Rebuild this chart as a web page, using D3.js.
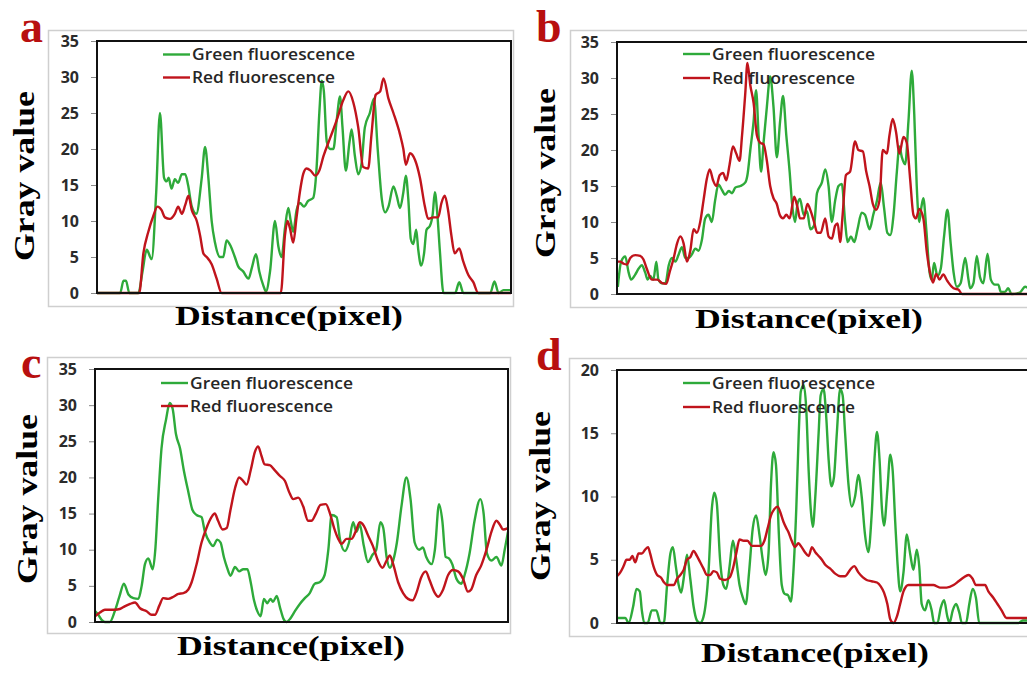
<!DOCTYPE html>
<html><head><meta charset="utf-8">
<script src="https://cdn.jsdelivr.net/npm/d3@7"></script>
<style>body{margin:0;background:#fff}svg{display:block}</style>
</head><body>
<svg id="chart" width="1027" height="673"></svg>
<script>
// ---------- DATA ----------
const panelLetters = ["a", "b", "c", "d"];
const seriesNames = ["Green fluorescence", "Red fluorescence"];
const yAxisTitle = "Gray value";
const xAxisTitle = "Distance(pixel)";
const yTicks35 = [0, 5, 10, 15, 20, 25, 30, 35];
const yTicks20 = [0, 5, 10, 15, 20];
const yMax = [35, 35, 35, 20];

const aGreen = [[0,0],[5.6,0],[6.4,1.7],[7,1.7],[7.8,0],[10,0],[11,3],[12,6],[13.2,4.7],[14.3,14],[15.2,25],[16.2,16],[16.8,15.5],[17.3,16],[18,14.5],[18.8,15.8],[19.6,15.3],[20.5,16.5],[21.3,16.5],[22,15],[22.9,12],[24,11],[25.3,16],[26.1,20.3],[26.9,16],[27.7,10],[28.5,7],[29.7,5],[30.5,5],[31.3,7.3],[32.3,6.5],[33.3,5],[34.1,3.7],[35.3,3],[36.6,2],[37.4,3.5],[38.4,5.4],[39.2,3],[40.2,1],[40.8,0.2],[41.8,3],[43,10],[43.8,6.5],[44.6,5],[45.4,9],[46.2,11.8],[46.8,10],[47.4,8.5],[48.2,11.5],[49,12.5],[50,12],[51,12.8],[52.2,13.2],[53,17],[53.7,25],[54.3,29.5],[54.8,28],[55.5,21],[56.3,20],[57.1,20],[57.9,24],[58.7,27.3],[59.3,23],[60.1,17],[61,21],[61.5,22.7],[62.3,19],[63.1,16.5],[63.9,18],[64.7,23],[65.9,25],[66.9,27],[67.8,20],[68.8,13],[69.6,11.2],[70.4,12],[71.6,14.8],[72.4,13.5],[73.2,11.8],[74,14],[74.6,16.3],[75.2,13],[75.8,7.5],[76.4,6.8],[77.1,8.8],[77.6,6],[78.3,3.8],[79,5.5],[79.6,8.8],[80.4,9.3],[81.1,11],[81.6,14],[82.2,11],[82.8,6],[83.7,0],[86.5,0],[87.5,1.5],[88.5,0],[95,0],[96,1.6],[97,0],[98.2,0.4],[100,0.4]];
const aRed = [[0,0],[10.2,0],[11.2,5.5],[12.4,8.5],[13.6,10.7],[14.6,12],[15.6,11.5],[16.4,10.5],[17.6,10.3],[18.8,11],[19.6,12],[20.5,11],[21.3,12.2],[22.1,13.5],[22.9,11.5],[24.1,10],[24.9,8],[25.7,5.5],[26.5,5],[27.7,4],[28.9,2],[30.1,0],[44.4,0],[45.4,8],[46,10],[46.6,9],[47.4,7],[48.2,10.5],[49,14],[49.8,16.5],[50.6,17.3],[51.6,17],[52.7,16.3],[53.7,17],[54.7,19],[56.3,21.5],[57.9,24],[59.5,26.8],[60.7,28],[61.9,26.5],[63.1,23],[64.3,17.5],[65.5,17.3],[66.3,22],[67.3,27.5],[68.4,28],[69.2,29.8],[70.4,27],[71.6,25],[73.2,22],[74,20],[74.6,17.8],[75.6,19.4],[76.8,18.5],[78,16],[79.2,12],[80,10.3],[81.2,10.5],[82.4,10.5],[83.2,12.5],[84,13.5],[84.8,11.5],[85.6,8],[86.4,5.5],[87.5,6.2],[88.4,4.5],[89.7,2.5],[90.9,1.5],[92.1,0],[100,0]];

const bGreen = [[0.2,1],[1,4.5],[2,5.2],[2.8,3],[3.4,2],[4.4,2.7],[5.2,3.5],[6,4],[6.8,3],[7.4,2],[8,2.5],[8.8,2],[9.5,4.5],[10,2],[10.9,1.5],[11.7,1.5],[12.5,4],[13.3,5],[14.1,4.5],[14.9,5.5],[15.7,6.5],[16.5,5],[17.3,5],[18.1,5.5],[18.9,6.3],[19.7,6],[20.5,7.5],[21.3,10.5],[22.1,11],[22.9,10],[23.7,13],[24.5,15.2],[25.3,14.5],[26.1,13.8],[27,14.3],[27.8,14],[28.6,14.8],[29.8,15],[31,15.5],[31.5,16.5],[32.2,20],[33,24],[33.6,28.3],[34.2,22],[34.8,17],[35.4,21],[36.2,26],[37,30.2],[37.8,26],[38.6,19],[39.4,24],[40.1,27.5],[40.9,22],[41.7,17],[42.3,12.5],[43,10],[43.6,12.5],[44.2,13.2],[45.1,11],[45.9,11.5],[46.7,9],[47.6,9.5],[48.3,14],[49.5,15.5],[50.3,17.3],[51.1,15],[51.9,10],[52.7,13],[53.5,15],[54.3,15.3],[55.1,10],[55.7,7.2],[56.5,8],[57.3,7.2],[58.1,9],[59.1,11.3],[59.9,11],[61,9],[61.9,11],[62.8,13],[63.7,15.5],[64.5,12],[65.3,8.5],[66,8.2],[66.8,11],[67.6,17],[68.2,20.5],[68.8,19],[69.6,18],[70.4,24],[71.2,31],[71.8,25],[72.4,15],[73,10],[73.5,12],[74,13.3],[74.7,9],[75.5,3],[76,2],[76.6,4.3],[77.4,2.5],[78.2,3.5],[79,8],[79.8,11.7],[80.6,7],[81.3,3],[82.1,1],[83,1.5],[84.1,5],[84.9,2],[85.3,0.8],[86.1,1.5],[86.9,5.3],[87.7,2.3],[88.5,1.5],[89.5,5.6],[90.3,2],[91.3,1.3],[92.1,1.3],[92.7,0.3],[93.7,0.3],[94.5,0.8],[95.3,0],[97.3,0.2],[98.6,1],[100,0.5]];
const bRed = [[0,4.5],[0.8,4.5],[1.6,4.2],[2.4,4.1],[3.2,5],[4.4,5.4],[5.6,5.3],[6.4,4.8],[7.2,3.5],[8.4,2],[9.7,2],[10.9,1.5],[11.9,1.4],[12.7,3],[13.7,5],[14.5,7],[15.3,8],[16.1,7],[16.9,4.5],[17.7,6],[18.5,9],[19.3,8.5],[20.1,10],[20.9,13],[21.7,16],[22.4,17.3],[23.2,15.8],[24,15],[24.8,16.5],[25.6,16.8],[26.4,15.8],[27.2,18],[28,20.5],[28.8,19.5],[29.6,18.5],[30.2,22],[31,28],[31.5,32.1],[32.2,29],[33,26.5],[33.8,22],[34.6,21],[35.4,20.8],[36.2,18.5],[37,15],[37.8,13.3],[38.6,12.5],[39.3,11],[40.1,10.5],[40.9,11],[41.7,10.5],[42.8,13.5],[43.6,12],[44.2,10.5],[45.1,10.5],[46,12.5],[46.8,11.5],[47.6,10],[48.4,8.5],[49.2,8.5],[50.3,10.5],[51.1,8],[51.9,7.7],[52.7,9.5],[53.3,9.8],[53.9,7.2],[54.5,11],[55.3,16.5],[56.3,17],[57.5,21.2],[58.3,20],[59.4,19.8],[60.2,17],[61,15],[61.8,12.5],[62.6,11.7],[63.4,13],[64.2,20],[65.2,19.5],[65.8,22],[66.6,24.3],[67.4,22.5],[68.2,19.5],[69.2,21.8],[70,21],[70.8,16],[71.6,11],[72.2,10.5],[73,11.8],[74,10.5],[74.8,6],[75.6,3],[76.3,1.6],[77.1,2.8],[77.9,2],[78.8,2.7],[79.8,1.8],[81.3,0.8],[82.5,0.6],[83.3,0],[100,0]];

const cGreen = [[0,1.5],[0.8,1],[1.6,0.3],[2.4,0],[3.6,0],[4.8,1.5],[5.9,3.5],[7,5.3],[8.1,3.8],[9.3,3.3],[10.5,3.2],[11.3,5],[12.1,8],[12.9,8.8],[14,7.3],[14.6,10],[15.3,17],[16.1,24],[17.2,28],[18.1,30.3],[18.8,29.5],[19.6,26],[20.6,24],[21.5,21],[22.6,18],[23.6,15.5],[24.6,14.8],[25.8,14.5],[26.6,12.5],[27.8,11],[28.6,10.5],[29.6,11.4],[30.4,11],[31.2,9],[32,7.5],[32.8,6.4],[33.9,7.6],[34.9,7],[35.9,7.3],[36.9,7.3],[37.7,5.5],[38.5,3],[39.3,1.5],[40.1,0.8],[40.9,3.2],[41.7,2.6],[42.5,3.2],[43.1,2.8],[44,3.6],[44.8,2],[45.6,0.5],[46.4,0],[47.3,0.5],[48.4,1.5],[49.6,2.5],[50.8,3.3],[52,4],[53.2,5.3],[54.4,5.5],[55.6,6.5],[56.5,10],[57.3,14.8],[58.5,14.5],[59.3,11.5],[60.5,9.8],[61.5,11],[62.5,13.8],[63.3,12.5],[64.1,13.5],[65.1,10.5],[66.1,8.3],[67.2,9.3],[68.1,10],[69.1,13.8],[69.8,13],[70.6,9],[71.4,7.5],[72.2,8.5],[73.1,11],[74.2,16],[75.4,20],[76.4,17],[77.4,11],[78.5,10],[79.4,10.3],[80.2,9],[81.5,8],[82.3,10],[83.3,16.3],[84.1,14],[84.9,9],[85.7,8.8],[86.5,8],[87.5,6],[88.7,5.3],[89.5,6.5],[90.7,9.5],[91.9,14],[93.3,17],[94.1,15],[94.9,9.5],[96,8.5],[97.2,9],[98.4,7.8],[99.2,10],[100,12.5]];
const cRed = [[0,0.8],[1.2,1.3],[2.4,1.7],[3.6,1.7],[4.8,1.7],[6,1.8],[7.3,2.2],[8.5,2.5],[9.7,2.7],[10.9,1.9],[12.5,1.5],[13.7,1],[14.5,1],[15.6,2.3],[16.5,3.3],[17.7,3.2],[19,3.5],[20.2,3.9],[21.4,4],[22.6,4.5],[23.4,5.5],[24.6,8],[25.8,11],[27,13],[28.2,14.5],[29,15],[29.8,14],[30.9,12.8],[31.9,13],[32.8,15.5],[33.9,18.5],[34.9,20],[35.9,19.5],[36.7,19],[37.7,21],[38.7,23.5],[39.5,24.3],[40.3,23],[41.1,21.8],[42.3,21.7],[43.5,21],[44.8,20.2],[46,19.5],[47,18],[48,17],[49.2,17.2],[50.4,16],[51.6,14],[52.4,14],[53.5,15],[54.6,16.2],[55.9,16.3],[56.9,15],[57.9,13],[58.9,11.5],[59.7,10.8],[60.9,11.5],[62.1,11.5],[63.1,12.5],[64.1,13.8],[65.1,13.3],[66.1,12],[67.3,10.5],[68.5,8.5],[69.6,7.5],[70.6,8.5],[71.4,9.2],[72.2,8],[73.4,5.5],[74.6,4],[75.8,3.2],[76.9,3],[77.8,4],[79,6.2],[80.1,7],[81,5.8],[82.3,4],[83.1,3.5],[84.3,4.5],[85.5,6.5],[86.7,7.2],[87.9,7],[89.1,6],[90.3,4.2],[91.1,4.5],[92.3,6.5],[93.5,7.8],[94.8,10],[96,12.5],[97.2,14],[98,13.5],[98.8,12.8],[100,13]];

const dGreen = [[0,0.4],[2,0.4],[2.8,0],[3.9,1.3],[4.7,2.7],[5.5,2.5],[6,1],[6.6,0],[7.4,0],[8.4,1],[9.5,1],[10.5,0],[11.3,0],[12.1,3],[12.9,5.5],[13.5,6],[14.2,4.5],[14.9,3],[15.5,2.4],[16.1,3.5],[16.9,5.4],[17.7,3.5],[18.5,1.3],[19.3,0.2],[20.1,0],[20.9,0.5],[22.1,4],[22.9,9],[23.5,10.3],[24.1,9.5],[24.9,5],[25.7,3],[26.4,2.7],[27.2,4.5],[28,6.5],[28.8,5],[29.6,3],[30.4,2],[31.1,1.5],[31.9,4],[32.8,7.5],[33.6,8.5],[34.4,7],[35.2,5],[35.9,3.8],[36.6,5.5],[37.2,11],[37.8,13.5],[38.4,12.5],[39.1,7],[39.8,3],[40.5,2.3],[41.3,2.2],[42,1.7],[42.6,4],[43.3,9],[43.9,15],[44.4,18.3],[45.1,18.8],[45.7,17],[46.3,12],[46.8,9],[47.3,7.6],[47.9,10],[48.7,15],[49.2,18],[49.9,18.5],[50.5,16.5],[51.1,13],[51.8,10.8],[52.4,11.5],[53.1,15],[53.9,18.5],[54.5,18],[55.1,15],[55.9,11],[56.7,9.2],[57.5,10],[58.3,11.7],[59.1,10],[59.9,7],[60.7,5.6],[61.5,8.5],[62.2,13],[62.8,15.1],[63.4,13],[64,9],[64.5,7.7],[65.3,10.5],[66,13.3],[66.6,12],[67.2,8],[67.7,5],[68.4,2.5],[69.2,4],[70,7],[70.8,5.5],[71.6,4.2],[72.4,5.8],[73,4.5],[73.6,1.5],[74.4,1],[75.2,1.8],[76,1],[76.6,0],[77.4,0],[78.2,1.2],[79,1.8],[79.8,0.5],[80.3,0],[81.1,1],[81.9,1.5],[82.7,0.8],[83.3,0],[84.3,0],[85.1,1.5],[85.9,2.7],[86.7,2],[87.5,0],[97,0],[98,0.2],[100,0.2]];
const dRed = [[0,3.7],[0.8,4],[1.6,4.5],[2.3,5],[3.1,5],[3.7,5.3],[4.4,4.8],[5.2,5.5],[6,5.5],[6.8,5.8],[7.5,6],[8,5.5],[8.8,4.5],[9.7,3.8],[10.6,3.6],[11.4,3.2],[12.1,3],[12.9,3],[13.7,3],[14.5,3.5],[15.3,3.8],[16.1,4.2],[16.9,5],[17.7,5.2],[18.5,5.7],[19.3,5.3],[20.1,4.8],[20.9,4.3],[21.7,3.8],[22.5,3.8],[23.3,4.1],[24.1,4],[24.9,3.5],[26.1,3.4],[27.2,3.6],[28,4.3],[28.8,5.5],[29.6,6.6],[30.6,6.5],[31.5,6.5],[32.6,6.1],[33.8,6.1],[34.8,6.1],[35.6,6.5],[36.4,7.5],[37.2,8.5],[38,9],[38.8,9.2],[39.4,8.8],[40.2,8],[40.9,7.5],[41.4,7.2],[42.2,6.5],[43,6],[43.8,6.3],[44.6,6],[45.4,5.6],[46.3,5.3],[47.1,6],[47.9,5.6],[48.7,5.3],[49.5,5],[50.3,4.6],[51.5,4.3],[52.7,3.9],[53.9,3.7],[55.1,3.7],[56.3,4.2],[57.3,4.5],[58.3,4],[59.4,3.6],[60.3,3.4],[61.5,3.3],[62.8,3.2],[63.7,2.9],[64.5,2.4],[65.3,1.5],[66,0.3],[66.8,0],[67.6,0.5],[68.4,1.5],[69.2,2.5],[70.4,3],[71.6,3],[73.2,3],[74.8,3],[76.4,3],[78,2.8],[79.6,2.8],[81.3,3],[82.5,3.3],[83.7,3.6],[84.9,3.8],[85.9,3.5],[86.7,3],[87.7,3],[88.9,3],[89.7,2.5],[90.9,2],[91.9,1.5],[92.9,1],[94.1,0.4],[95.7,0.4],[100,0.4]];

const panelGreen = [aGreen, bGreen, cGreen, dGreen];
const panelRed = [aRed, bRed, cRed, dRed];

// ---------- LAYOUT (positions, not data) ----------
const layout = [
  {frame:[48,30,465,276], plot:[97,41,414,252], letter:[20,42], gray:[34,176], dist:[289,325], leg:[54.5,77.5]},
  {frame:[570,30,470,277], plot:[617,42,414,252], letter:[536,42], gray:[555,173], dist:[809,328], leg:[54,78]},
  {frame:[47,357,463,276], plot:[95,369,413,253], letter:[21,378], gray:[37,499], dist:[291,655], leg:[383,406]},
  {frame:[569,358,470,278], plot:[617,370,414,253], letter:[536,370], gray:[550,496], dist:[815,662], leg:[383,407]}
];
const GREEN = "#2eaa3a", RED = "#c0141c", LETTER = "#b80f0f";

const svg = d3.select("#chart");

layout.forEach((L, i) => {
  const g = svg.append("g");
  const [fx, fy, fw, fh] = L.frame;
  const [px, py, pw, ph] = L.plot;

  g.append("rect").attr("x", fx + 0.5).attr("y", fy + 0.5).attr("width", fw).attr("height", fh)
    .attr("fill", "#fff").attr("stroke", "#cfcfcf").attr("stroke-width", 1.5);

  const x = d3.scaleLinear().domain([0, 100]).range([px, px + pw]);
  const y = d3.scaleLinear().domain([0, yMax[i]]).range([py + ph, py]);
  const ticks = yMax[i] === 20 ? yTicks20 : yTicks35;

  const yAxis = d3.axisLeft(y).tickValues(ticks).tickSize(6).tickPadding(12).tickFormat(d3.format("d"));
  const ax = g.append("g").attr("transform", `translate(${px},0)`).call(yAxis);
  ax.select(".domain").remove();
  ax.selectAll(".tick line").attr("stroke", "#8a8a8a").attr("stroke-width", 1);
  ax.selectAll(".tick text").attr("font-family", "'Open Sans', sans-serif").attr("font-weight", 700)
    .attr("font-size", 16).attr("fill", "#2b2b2b");

  const line = d3.line().x(d => x(d[0])).y(d => y(d[1])).curve(d3.curveMonotoneX);
  g.append("path").datum(panelGreen[i]).attr("d", line).attr("fill", "none")
    .attr("stroke", GREEN).attr("stroke-width", 2.4).attr("stroke-linejoin", "round");
  g.append("path").datum(panelRed[i]).attr("d", line).attr("fill", "none")
    .attr("stroke", RED).attr("stroke-width", 2.4).attr("stroke-linejoin", "round");

  g.append("rect").attr("x", px).attr("y", py).attr("width", pw).attr("height", ph)
    .attr("fill", "none").attr("stroke", "#111").attr("stroke-width", 2);

  // legend
  const legColors = [GREEN, RED];
  seriesNames.forEach((name, k) => {
    const ly = L.leg[k];
    g.append("line").attr("x1", px + 66).attr("x2", px + 93).attr("y1", ly).attr("y2", ly)
      .attr("stroke", legColors[k]).attr("stroke-width", 2.4);
    g.append("text").attr("x", px + 95).attr("y", ly).attr("dy", "0.36em")
      .attr("font-family", "'Open Sans', sans-serif").attr("font-weight", 600).attr("font-size", 16)
      .attr("fill", "#262626").attr("textLength", k === 0 ? 163 : 143).attr("lengthAdjust", "spacingAndGlyphs")
      .text(name);
  });

  // axis titles
  g.append("text").attr("transform", `translate(${L.gray[0]},${L.gray[1]}) rotate(-90)`)
    .attr("text-anchor", "middle").attr("font-family", "'Liberation Serif', 'Times New Roman', serif")
    .attr("font-weight", 700).attr("font-size", 29).attr("fill", "#000")
    .attr("textLength", 170).attr("lengthAdjust", "spacingAndGlyphs").text(yAxisTitle);
  g.append("text").attr("x", L.dist[0]).attr("y", L.dist[1]).attr("text-anchor", "middle")
    .attr("font-family", "'Liberation Serif', 'Times New Roman', serif")
    .attr("font-weight", 700).attr("font-size", 28).attr("fill", "#000")
    .attr("textLength", 228).attr("lengthAdjust", "spacingAndGlyphs").text(xAxisTitle);

  g.append("text").attr("x", L.letter[0]).attr("y", L.letter[1])
    .attr("font-family", "'Liberation Serif', 'Times New Roman', serif")
    .attr("font-weight", 700).attr("font-size", 46).attr("fill", LETTER).text(panelLetters[i]);
});
</script>
</body></html>
